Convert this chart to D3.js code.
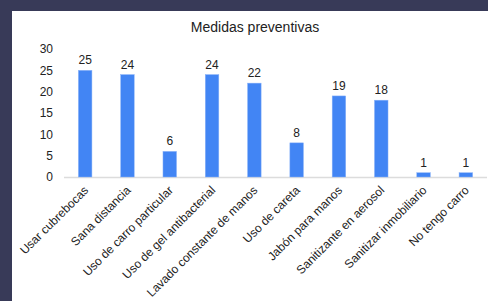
<!DOCTYPE html>
<html>
<head>
<meta charset="utf-8">
<script src="https://cdn.jsdelivr.net/npm/d3@7"></script>
<style>
  html, body { margin: 0; padding: 0; background: #383a58; }
  #chart { position: absolute; left: 12px; top: 11px; width: 476px; height: 290px; background: #fff; }
</style>
</head>
<body>
<div id="chart"></div>
<script>
// Medidas preventivas - bar chart
const categories = [
  'Usar cubrebocas', 'Sana distancia', 'Uso de carro particular',
  'Uso de gel antibacterial', 'Lavado constante de manos', 'Uso de careta',
  'Jabón para manos', 'Sanitizante en aerosol', 'Sanitizar inmobiliario',
  'No tengo carro'
];
const values = [25, 24, 6, 24, 22, 8, 19, 18, 1, 1];
const yTicks = [0, 5, 10, 15, 20, 25, 30];

const width = 476;
const height = 290;
// offsets relative to the white panel (panel sits at 12,11 in the page)
const margin = { left: 52, right: 1, top: 38, bottom: 124 };

const svg = d3.select('#chart')
  .append('svg')
  .attr('width', width)
  .attr('height', height)
  .style('font-family', 'Liberation Sans, Arial, sans-serif');

const x = d3.scaleBand()
  .domain(categories)
  .range([margin.left, width - margin.right])
  .paddingInner(0.68)
  .paddingOuter(0.34);

const y = d3.scaleLinear()
  .domain([0, 30])
  .range([height - margin.bottom, margin.top]);

// Title
svg.append('text')
  .attr('x', 243)
  .attr('y', 21)
  .attr('text-anchor', 'middle')
  .style('font-size', '14px')
  .style('fill', '#222')
  .text('Medidas preventivas');

// Y axis labels
const yAxis = d3.axisLeft(y)
  .tickValues(yTicks)
  .tickSize(0)
  .tickPadding(0);

svg.append('g')
  .attr('transform', `translate(${margin.left - 11}, 0)`)
  .call(yAxis)
  .call(g => g.select('.domain').remove())
  .selectAll('text')
  .style('font-size', '12px')
  .style('font-family', 'Liberation Sans, Arial, sans-serif')
  .style('fill', '#222');

// Baseline
svg.append('line')
  .attr('x1', margin.left)
  .attr('x2', width - margin.right)
  .attr('y1', y(0) + 0.5)
  .attr('y2', y(0) + 0.5)
  .attr('stroke', '#dcdcdc')
  .attr('stroke-width', 1.5);

// Bars
svg.selectAll('rect.bar')
  .data(values)
  .join('rect')
  .attr('class', 'bar')
  .attr('x', (d, i) => x(categories[i]))
  .attr('y', d => y(d))
  .attr('width', x.bandwidth())
  .attr('height', d => y(0) - y(d))
  .attr('fill', '#4285f4')
  .attr('stroke', '#8ab2f8')
  .attr('stroke-width', 0.5);

// Value labels
svg.selectAll('text.val')
  .data(values)
  .join('text')
  .attr('class', 'val')
  .attr('x', (d, i) => x(categories[i]) + x.bandwidth() / 2)
  .attr('y', d => y(d) - 6)
  .attr('text-anchor', 'middle')
  .style('font-size', '12px')
  .style('fill', '#222')
  .text(d => d);

// X axis labels, rotated
svg.selectAll('text.cat')
  .data(categories)
  .join('text')
  .attr('class', 'cat')
  .attr('transform', d => `translate(${x(d) + x.bandwidth() / 2 + 1}, ${y(0) + 11}) rotate(-45)`)
  .attr('text-anchor', 'end')
  .attr('dy', '0.35em')
  .style('font-size', '12px')
  .style('fill', '#222')
  .text(d => d);
</script>
</body>
</html>
